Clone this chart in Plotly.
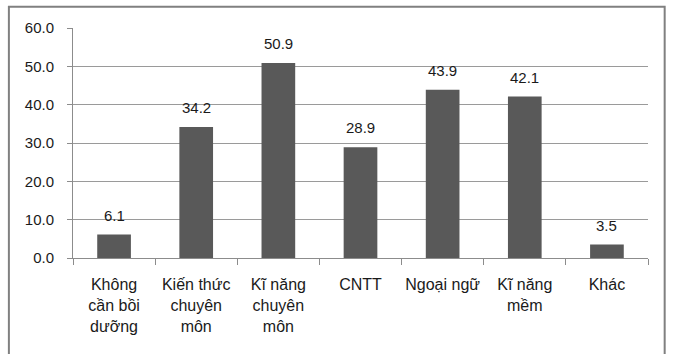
import plotly.graph_objects as go

# Survey categories (multi-line tick labels) and their percentages
categories = [
    "Không<br>cần bồi<br>dưỡng",
    "Kiến thức<br>chuyên<br>môn",
    "Kĩ năng<br>chuyên<br>môn",
    "CNTT",
    "Ngoại ngữ",
    "Kĩ năng<br>mềm",
    "Khác",
]
values = [6.1, 34.2, 50.9, 28.9, 43.9, 42.1, 3.5]
y_ticks = [0, 10, 20, 30, 40, 50, 60]

FONT = "Liberation Sans, Arial, sans-serif"
TEXT = "#1a1a1a"
GRID = "#9a9a9a"

fig = go.Figure(
    go.Bar(
        x=categories,
        y=values,
        marker=dict(color="#595959", line=dict(width=0)),
        hoverinfo="skip",
    )
)

# Value labels above each bar
for c, v in zip(categories, values):
    fig.add_annotation(
        x=c, y=v, text=f"{v:.1f}", showarrow=False,
        yanchor="bottom", yshift=9,
        font=dict(family=FONT, size=15, color=TEXT),
    )

# Outer frame around the chart
fig.add_shape(
    type="rect", xref="paper", yref="paper",
    x0=-0.1115, x1=1.029, y0=-0.45, y1=1.092,
    line=dict(color="#808080", width=2), fillcolor="rgba(0,0,0,0)",
    layer="below",
)

fig.update_layout(
    width=674, height=354,
    margin=dict(l=73, r=26, t=28, b=96, autoexpand=False),
    paper_bgcolor="white", plot_bgcolor="white",
    bargap=0.59,
    showlegend=False,
    font=dict(family=FONT, size=15, color=TEXT),
)

fig.update_xaxes(
    type="category",
    showline=True, linecolor="#8c8c8c", linewidth=1,
    ticks="outside", tickson="boundaries", ticklen=6, tickcolor="#8c8c8c",
    ticklabelstandoff=12, tickangle=0, automargin=False,
    tickfont=dict(family=FONT, size=16, color=TEXT),
    showgrid=False,
)

fig.update_yaxes(
    range=[0, 60], tickvals=y_ticks, tickformat=".1f",
    showline=True, linecolor="#8c8c8c", linewidth=1,
    ticks="outside", ticklen=5, tickcolor="#8c8c8c",
    ticklabelstandoff=10, automargin=False,
    showgrid=True, gridcolor=GRID, gridwidth=1,
    zeroline=False,
    tickfont=dict(family=FONT, size=15, color=TEXT),
)

fig.write_html("out.html")
